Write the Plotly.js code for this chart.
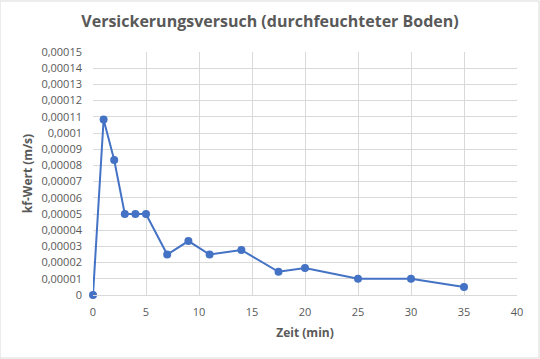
<!DOCTYPE html>
<html><head><meta charset="utf-8">
<script src="https://cdn.plot.ly/plotly-3.0.1.min.js"></script>
<style>html,body{margin:0;padding:0;background:#fff}#c{width:540px;height:359px}</style>
</head><body><div id="c"></div>
<script>
const zeit = [0, 1, 2, 3, 4, 5, 7, 9, 11, 14, 17.5, 20, 25, 30, 35];
const kfWert = [0, 0.0001083, 0.0000833, 0.00005, 0.00005, 0.00005, 0.000025, 0.0000333, 0.000025, 0.0000278, 0.0000143, 0.0000167, 0.00001, 0.00001, 0.000005];
const yTickVals = [0,0.00001,0.00002,0.00003,0.00004,0.00005,0.00006,0.00007,0.00008,0.00009,0.0001,0.00011,0.00012,0.00013,0.00014,0.00015];
const yTickText = ["0","0,00001","0,00002","0,00003","0,00004","0,00005","0,00006","0,00007","0,00008","0,00009","0,0001","0,00011","0,00012","0,00013","0,00014","0,00015"];
const xTickVals = [0,5,10,15,20,25,30,35,40];

const trace = {x: zeit, y: kfWert, mode: 'lines+markers', type: 'scatter',
  line: {color: '#4472C4', width: 2}, marker: {color: '#4472C4', size: 8}, cliponaxis: false};
const font = 'Open Sans, sans-serif';
const layout = {
  width: 540, height: 359,
  margin: {l: 93, r: 23, t: 52, b: 64},
  paper_bgcolor: '#fff', plot_bgcolor: '#fff',
  font: {family: font, color: '#595959', size: 11},
  title: {text: '<b>Versickerungsversuch (durchfeuchteter Boden)</b>', font: {size: 16, color: '#595959', family: font}, x: 0.5, xanchor: 'center', y: 0.94, yanchor: 'middle'},
  xaxis: {range: [0, 40], tickvals: xTickVals, showgrid: true, gridcolor: '#d9d9d9', gridwidth: 1,
    zeroline: false, showline: true, linecolor: '#d9d9d9', ticks: '', ticklabelstandoff: 7, tickfont: {size: 11, color: '#595959'},
    title: {text: '<b>Zeit (min)</b>', font: {size: 12, color: '#595959'}, standoff: 10}},
  yaxis: {range: [0, 0.00015], tickvals: yTickVals, ticktext: yTickText, showgrid: true, gridcolor: '#d9d9d9',
    zeroline: false, showline: false, ticks: '', ticklabelstandoff: 10, tickfont: {size: 11, color: '#595959'},
    title: {text: '<b>kf-Wert (m/s)</b>', font: {size: 12, color: '#595959'}, standoff: 6}},
  showlegend: false,
  shapes: [{type: 'rect', xref: 'paper', yref: 'paper', x0: -93/424, x1: 1 + 22/424, y0: -63/243, y1: 1 + 51/243,
    line: {color: '#d9d9d9', width: 1}}]
};
Plotly.newPlot('c', [trace], layout, {displayModeBar: false, staticPlot: true});
</script></body></html>
